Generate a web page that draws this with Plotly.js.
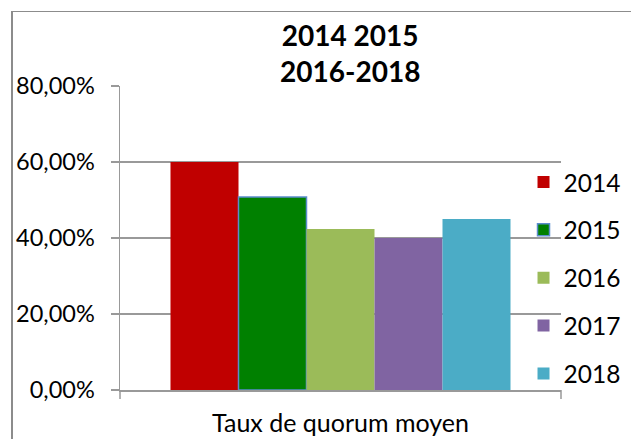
<!DOCTYPE html>
<html>
<head>
<meta charset="utf-8">
<script src="https://cdn.plot.ly/plotly-3.0.1.min.js"></script>
<style>
html,body{margin:0;padding:0;background:#fff;}
#wrap{position:relative;width:631px;height:439px;overflow:hidden;}
#chart{position:absolute;left:0;top:0;width:631px;height:439px;}
#frame{position:absolute;left:11px;top:11px;width:700px;height:500px;border-left:2px solid #8c8c8c;border-top:1px solid #8c8c8c;pointer-events:none;}
</style>
</head>
<body>
<div id="wrap"><div id="chart"></div><div id="frame"></div></div>
<script>
const categories = ['Taux de quorum moyen'];
const years = ['2014', '2015', '2016', '2017', '2018'];
const values = [0.600, 0.508, 0.424, 0.400, 0.450];
const colors = ['#C00000', '#008000', '#9BBB59', '#8064A2', '#4BACC6'];
const lineColors = ['#C00000', '#5b8ccc', '#9BBB59', '#8064A2', '#4BACC6'];
const lineWidths = [0, 1.5, 0, 0, 0];
const yTicks = [0, 0.2, 0.4, 0.6, 0.8];

const FONT = 'Lato, "Open Sans", sans-serif';

const traces = years.map((y, i) => ({
  type: 'bar',
  name: y,
  x: categories,
  y: [values[i]],
  legendgroup: 'g' + i,
  marker: {color: colors[i], line: {color: lineColors[i], width: lineWidths[i]}},
  hoverinfo: 'none'
}));

const layout = {
  width: 631, height: 439,
  margin: {l: 120, r: 70, t: 86, b: 49, pad: 0, autoexpand: false},
  paper_bgcolor: '#ffffff', plot_bgcolor: '#ffffff',
  separators: ', ',
  barmode: 'group', bargap: 0.229, bargroupgap: 0,
  font: {family: FONT, color: '#000', size: 23},
  title: {
    text: '<b>2014 2015<br>2016-2018</b>',
    font: {family: FONT, size: 28, color: '#000'},
    x: 0.555, xanchor: 'center', y: 0.895, yanchor: 'middle'
  },
  xaxis: {
    type: 'category',
    showline: true, linecolor: '#999', linewidth: 1.5,
    ticks: '', showgrid: false,
    ticklabelstandoff: 10,
    tickfont: {family: FONT, size: 25, color: '#000'},
    fixedrange: true
  },
  yaxis: {
    range: [0, 0.8], tickvals: yTicks, tickformat: '.2%',
    showline: true, linecolor: '#999', linewidth: 1.5,
    ticks: 'outside', ticklen: 8, tickcolor: '#999', tickwidth: 1.5,
    ticklabelstandoff: 11,
    showgrid: true, gridcolor: '#999', gridwidth: 1.5,
    zeroline: false,
    tickfont: {family: FONT, size: 23.5, color: '#000'},
    fixedrange: true
  },
  legend: {
    x: 0.915, xanchor: 'left', y: 0.758, yanchor: 'top',
    traceorder: 'grouped', tracegroupgap: 13,
    font: {family: FONT, size: 24.5, color: '#000'},
    bgcolor: 'rgba(0,0,0,0)'
  },
  shapes: [
    {type: 'line', xref: 'paper', yref: 'paper', x0: 0, x1: 0, y0: 0, y1: -0.03, line: {color: '#999', width: 1.5}},
    {type: 'line', xref: 'paper', yref: 'paper', x0: 1, x1: 1, y0: 0, y1: -0.03, line: {color: '#999', width: 1.5}}
  ],
  showlegend: true
};

Plotly.newPlot('chart', traces, layout, {displayModeBar: false, staticPlot: true});
</script>
</body>
</html>
